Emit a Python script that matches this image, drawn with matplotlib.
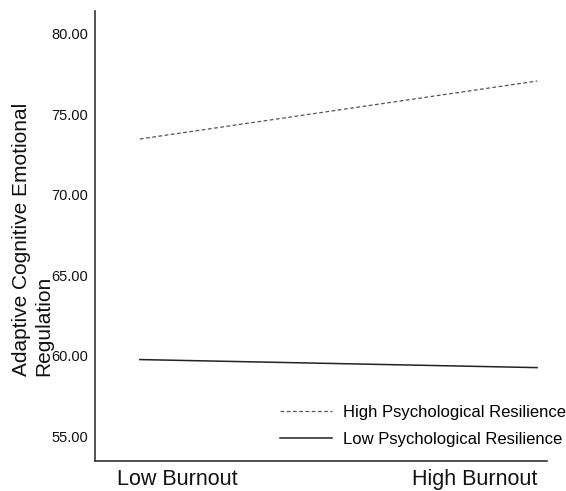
import matplotlib
matplotlib.use("Agg")
import matplotlib.pyplot as plt

plt.rcParams['font.family'] = ['Liberation Sans', 'DejaVu Sans']

categories = ["Low Burnout", "High Burnout"]
series_names = ["High Psychological Resilience", "Low Psychological Resilience"]
high_resilience = [73.45, 77.05]
low_resilience = [59.75, 59.25]
yticks = [55.0, 60.0, 65.0, 70.0, 75.0, 80.0]

W, H = 566, 491
fig = plt.figure(figsize=(W / 100, H / 100), dpi=100)
ax = fig.add_axes([95 / W, 1 - 461 / H, (547 - 95) / W, (461 - 11) / H])

xs = [0, 1]
ax.plot(xs, high_resilience, linestyle=(0, (3, 2)), color='#555555', linewidth=0.9,
        label=series_names[0])
ax.plot(xs, low_resilience, linestyle='-', color='#222222', linewidth=1.1,
        label=series_names[1])

ax.set_xlim(-0.113, 1.025)
ax.set_ylim(53.45, 81.4)
ax.set_yticks(yticks)
ax.set_yticklabels([f"{v:.2f}" for v in yticks], fontsize=10.5)
ax.set_xticks([0.093, 0.844])
ax.set_xticklabels(categories, fontsize=15.5)
ax.tick_params(axis='both', length=0, colors='#111111')
ax.tick_params(axis='y', pad=5)
ax.tick_params(axis='x', pad=5.5)

for s in ['top', 'right']:
    ax.spines[s].set_visible(False)
for s in ['left', 'bottom']:
    ax.spines[s].set_color('#333333')
    ax.spines[s].set_linewidth(1.2)

fig.text(33 / W, 1 - 239 / H, "Adaptive Cognitive Emotional\nRegulation",
         rotation=90, ha='center', va='center', multialignment='left', fontsize=15,
         color='#111111')

leg = ax.legend(loc='upper left', bbox_to_anchor=(280 / W, 1 - 405 / H),
                bbox_transform=fig.transFigure, frameon=False, fontsize=12,
                handlelength=3.1, handletextpad=0.66, borderpad=0, borderaxespad=0,
                labelspacing=0.7)

fig.savefig("out.png", dpi=100)
